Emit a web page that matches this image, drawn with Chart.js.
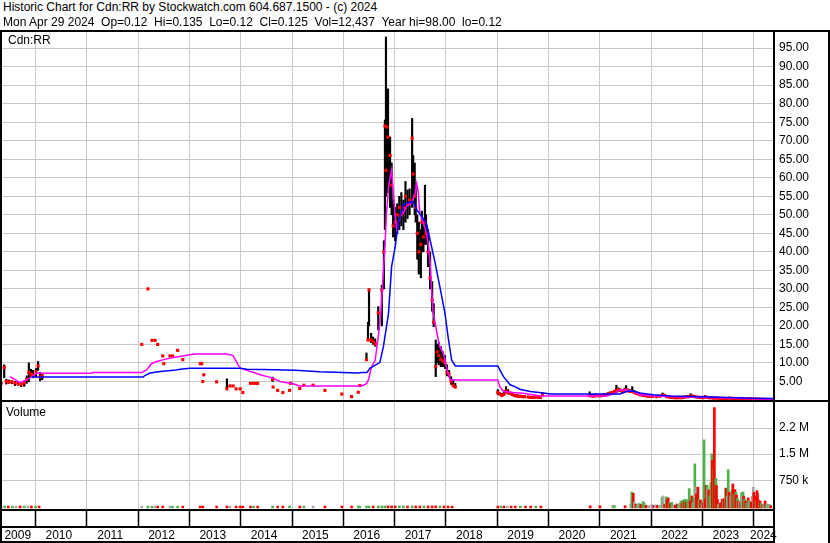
<!DOCTYPE html>
<html>
<head>
<meta charset="utf-8">
<script src="https://cdn.jsdelivr.net/npm/chart.js@4.4.1/dist/chart.umd.min.js"></script>
<style>
body { margin:0; width:830px; height:543px; background:#fff; position:relative; overflow:hidden;
       font-family:"Liberation Sans", Arial, sans-serif; font-size:12px; color:#000; }
.t { position:absolute; white-space:pre; line-height:15px; z-index:2; }
.ln { position:absolute; background:#000; z-index:3; }
canvas { position:absolute; left:0; }
</style>
</head>
<body>
<div class="t" style="left:3px;top:0px">Historic Chart for Cdn:RR by Stockwatch.com 604.687.1500 - (c) 2024</div>
<div class="t" style="left:3px;top:15px">Mon Apr 29 2024  Op=0.12  Hi=0.135  Lo=0.12  Cl=0.125  Vol=12,437  Year hi=98.00  lo=0.12</div>

<canvas id="price" width="830" height="368" style="top:32px"></canvas>
<canvas id="vol" width="830" height="141" style="top:402px"></canvas>

<div class="t" style="left:8px;top:33px">Cdn:RR</div>
<div class="t" style="left:6px;top:405px">Volume</div>

<!-- frame -->
<div class="ln" style="left:0;top:30px;width:830px;height:2px"></div>
<div class="ln" style="left:0;top:400px;width:830px;height:2px"></div>
<div class="ln" style="left:0;top:30px;width:2px;height:513px"></div>
<div class="ln" style="left:773px;top:30px;width:2px;height:513px"></div>
<div class="ln" style="left:828px;top:30px;width:2px;height:513px"></div>
<div class="ln" style="left:0;top:509px;width:775px;height:2px"></div>
<div class="ln" style="left:0;top:526px;width:775px;height:2px"></div>
<div class="ln" style="left:0;top:541px;width:775px;height:2px"></div>

<script>
// dates are decimal years
var barT = [
  2009.33,2009.39,2009.43,2009.48,2009.54,2009.60,2009.66,2009.72,2009.78,2009.83,2009.87,2009.91,2009.95,2010.01,2010.05,2010.09,2010.13,
  2012.07,2012.19,2012.27,2012.33,2012.38,2012.48,2012.50,2012.62,2012.67,2012.77,2012.87,
  2013.21,2013.24,2013.26,2013.28,2013.53,2013.73,2013.79,2013.85,2013.91,2013.99,
  2014.04,2014.19,2014.25,2014.30,2014.33,2014.62,2014.63,2014.72,2014.82,2014.95,2014.97,
  2015.15,2015.23,2015.41,2015.64,2015.97,2016.16,2016.29,2016.32,2016.45,
  2016.48,2016.50,2016.54,2016.58,2016.62,2016.68,2016.75,2016.79,2016.81,2016.83,2016.85,2016.87,2016.91,2016.94,2016.97,
  2017.01,2017.05,2017.09,2017.13,2017.17,2017.21,2017.25,2017.29,2017.34,2017.36,2017.39,2017.41,2017.44,2017.47,2017.51,2017.53,2017.56,2017.59,2017.61,2017.65,2017.69,2017.73,2017.76,2017.80,2017.83,2017.86,2017.90,2017.94,2017.98,
  2018.02,2018.06,2018.10,2018.14,2018.18,
  2019.01,2019.05,2019.09,2019.13,2019.17,2019.21,2019.25,2019.29,2019.33,2019.37,2019.41,2019.45,2019.49,2019.53,2019.60,2019.64,2019.68,2019.72,2019.76,2019.80,2019.84,2019.88,
  2020.80,2020.84,2020.88,2020.92,2020.96,2021.00,2021.04,2021.08,2021.12,2021.16,2021.20,2021.24,2021.28,2021.32,2021.36,2021.40,2021.44,2021.48,2021.51,2021.55,2021.59,2021.63,2021.67,2021.71,2021.75,2021.79,2021.83,2021.87,2021.91,2021.95,2021.99,2022.03,
  2022.10,2022.17,2022.22,2022.26,2022.30,2022.34,2022.38,2022.42,2022.46,2022.50,2022.54,2022.58,2022.62,2022.66,2022.70,2022.74,2022.77,2022.81,2022.85,2022.89,2022.93,2022.97,
  2023.01,2023.05,2023.09,2023.13,2023.17,2023.21,2023.25,2023.29,2023.33,2023.37,2023.41,2023.45,2023.49,2023.53,2023.57,2023.61,2023.65,2023.69,2023.73,2023.77,2023.81,2023.85,2023.89,2023.93,2023.97,
  2024.01,2024.05,2024.09,2024.13,2024.17,2024.21,2024.25,2024.29,2024.33
];
var barHi = [
  4.9,9.5,5.6,5.4,5.2,5.0,4.9,4.6,5.0,6.5,10.0,8.3,8.0,8.5,10.4,7.5,7.0,
  15.0,30.0,16.1,16.1,15.0,11.9,9.8,11.9,11.9,13.4,10.9,
  9.8,9.8,5.0,6.8,4.9,5.7,3.8,3.8,3.0,3.0,
  2.0,4.5,4.5,4.5,4.5,6.2,3.5,2.6,2.0,2.6,4.5,
  3.1,4.0,4.0,2.6,1.6,0.9,2.1,3.9,12.7,
  21,30,18,17,16.5,25.2,31,43,75.6,98,78,84,71,64,54,
  52,53,55,56,54,59,56.7,57,76,66,64,57,50,48,46,51,49,58,50,46,40,32,26,16.2,15,15.5,14.4,13,12,
  9.5,8,6.3,5.5,4.5,
  2.8,2.0,1.8,2.5,3.6,2.8,2.2,2.0,1.6,1.5,1.4,1.3,1.2,1.1,1.0,1.0,0.9,0.9,1.0,0.9,1.0,2.0,
  2.2,1.5,1.4,1.6,1.5,1.4,1.5,1.6,1.7,2.0,2.2,2.3,2.6,4.0,3.3,3.0,2.8,3.2,3.9,3.0,2.8,3.6,2.6,2.3,2.0,1.8,1.6,1.5,1.4,1.3,1.3,1.2,
  1.2,1.3,1.9,1.6,1.2,1.0,0.9,0.9,0.8,0.8,0.9,0.8,0.9,1.0,1.1,1.2,1.7,1.3,1.1,1.0,0.9,0.9,
  0.8,1.2,1.0,0.9,0.8,0.8,0.7,0.7,0.6,0.6,0.6,0.6,0.6,0.7,0.6,0.6,0.5,0.5,0.5,0.5,0.4,0.4,0.4,0.4,0.35,
  0.3,0.3,0.3,0.25,0.25,0.2,0.2,0.15,0.135
];
var barLo = [
  4.1,6.0,4.3,4.4,4.4,3.9,4.0,3.6,3.7,4.5,5.0,6.3,6.0,6.2,8.0,5.2,5.5,
  15.0,30.0,16.1,16.1,15.0,11.9,9.8,11.9,11.9,13.4,10.9,
  9.8,9.8,5.0,6.8,4.9,3.0,3.8,3.8,3.0,3.0,
  2.0,4.5,4.5,4.5,4.5,5.0,3.5,2.6,2.0,2.6,4.5,
  3.1,4.0,4.0,2.6,1.6,0.9,2.1,3.9,10.8,
  16.2,20,15.5,15,14.5,18.9,20,30,46,55,56,56,52,50,44,
  43,45,46,47,46,48,49,50,52,55,50,48,38,34,33,40,40,42,42,36,30,24,19.8,6.3,10,9.5,9.0,9,8.5,
  6.5,6.3,4.2,3.5,3.3,
  1.5,1.3,1.0,1.2,1.8,1.6,1.5,1.2,1.0,0.9,0.9,0.8,0.8,0.7,0.7,0.6,0.6,0.6,0.6,0.6,0.6,1.2,
  0.9,0.9,0.9,1.0,1.0,0.9,1.0,1.1,1.2,1.3,1.5,1.6,1.8,2.0,2.2,2.2,2.0,2.1,2.3,2.2,2.0,2.0,1.8,1.6,1.4,1.2,1.1,1.0,0.9,0.9,0.9,0.8,
  0.8,0.9,1.0,1.0,0.7,0.6,0.5,0.5,0.5,0.4,0.5,0.4,0.5,0.6,0.7,0.7,0.9,0.8,0.7,0.6,0.6,0.5,
  0.5,0.6,0.6,0.5,0.4,0.4,0.4,0.4,0.3,0.3,0.3,0.3,0.3,0.3,0.3,0.3,0.3,0.3,0.25,0.25,0.2,0.2,0.2,0.2,0.2,
  0.2,0.15,0.15,0.15,0.12,0.12,0.12,0.12,0.12
];
var barCl = [
  4.5,8.8,5.0,4.8,4.9,4.6,4.4,4.2,4.6,5.5,7.5,7.0,6.8,7.6,9.2,6.2,6.5,
  15.0,30.0,16.1,16.1,15.0,11.9,9.8,11.9,11.9,13.4,10.9,
  9.8,9.8,5.0,6.8,4.9,3.0,3.8,3.8,3.0,3.0,
  2.0,4.5,4.5,4.5,4.5,5.6,3.5,2.6,2.0,2.6,4.5,
  3.1,4.0,4.0,2.6,1.6,0.9,2.1,3.9,10.9,
  16.2,29.7,16.2,15.8,15.2,23.5,29.7,40,74,62,73.7,71,66,58,47,
  48,50,52,50,52,55,53,54,70.7,61,55,52,45,40,42,48,44,48,45,40,33,27,21,9,13,12,11,10.5,10,
  7.5,7,5,4,3.5,
  2.0,1.6,1.2,1.5,2.4,2.0,1.8,1.5,1.2,1.1,1.0,1.0,0.9,0.9,0.8,0.7,0.7,0.7,0.8,0.7,0.7,1.4,
  1.2,1.1,1.0,1.2,1.2,1.1,1.2,1.3,1.5,1.6,1.8,2.0,2.2,2.6,2.8,2.6,2.4,2.5,2.8,2.5,2.3,2.3,2.0,1.8,1.6,1.4,1.3,1.2,1.1,1.0,1.0,1.0,
  0.9,1.0,1.3,1.2,0.9,0.8,0.7,0.7,0.6,0.6,0.7,0.6,0.7,0.8,0.9,0.9,1.1,1.0,0.9,0.8,0.7,0.7,
  0.6,0.8,0.7,0.6,0.6,0.5,0.5,0.5,0.4,0.4,0.4,0.4,0.4,0.5,0.4,0.4,0.4,0.35,0.35,0.3,0.3,0.3,0.3,0.3,0.25,
  0.25,0.2,0.2,0.2,0.15,0.15,0.15,0.13,0.125
];

// short average (magenta)
var maShortT = [2009.50,2009.60,2009.70,2009.83,2009.93,2010.02,2011.10,2011.11,2012.07,2012.17,2012.26,2012.36,2012.56,2012.75,2013.01,
  2013.11,2013.73,2013.85,2013.95,2013.99,2014.12,2014.24,2014.38,2014.63,2014.76,2015.02,2015.15,2016.36,2016.45,2016.49,
  2016.55,2016.62,2016.68,2016.73,2016.77,2016.81,2016.84,2016.88,2016.91,2016.94,2016.97,2017.01,2017.04,2017.07,2017.14,
  2017.17,2017.23,2017.33,2017.40,2017.43,2017.46,2017.49,2017.56,2017.62,2017.66,2017.69,2017.72,2017.75,2017.79,2017.85,
  2017.88,2017.95,2018.00,2018.04,2018.08,2019.01,2019.05,2019.12,2019.31,2019.51,2019.83,2021.13,2021.26,2021.39,2021.52,
  2021.65,2021.78,2022.04,2022.69,2023.34,2023.99,2024.37];
var maShortV = [6.3,5.5,4.7,5.5,6.3,7.2,7.2,7.4,7.4,8.2,9.8,10.4,11.1,11.6,12.2,
  12.4,12.4,12.0,9.5,8.6,8.0,7.5,6.8,5.9,5.0,4.4,3.8,3.8,4.4,5.5,
  9.0,10.8,17.1,23.4,32.4,41.4,50.4,57.6,60,62.1,56.7,49.5,46,47.7,51,
  50.4,52.3,53.2,55.9,58.5,56,50.4,47.7,45,41.4,36.9,29.7,23.4,20.7,16.2,
  14.4,12.6,9.4,7.2,5.4,5.4,3.6,2.3,2.0,1.8,1.1,1.1,1.6,2.7,2.7,
  2.3,1.4,1.1,0.8,0.6,0.35,0.2];

// long average (blue)
var maLongT = [2009.93,2012.10,2012.13,2012.23,2012.43,2012.69,2012.82,2013.01,2013.99,2014.12,2014.67,2015.06,2015.54,2016.29,2016.36,
  2016.46,2016.52,2016.71,2016.78,2016.88,2016.94,2017.01,2017.07,2017.17,2017.23,2017.36,2017.43,2017.53,2017.62,2017.69,
  2017.79,2017.88,2017.98,2018.04,2018.11,2018.18,2019.01,2019.12,2019.25,2019.34,2019.44,2019.64,2019.90,2020.03,2021.39,
  2021.52,2021.65,2021.78,2022.04,2022.37,2023.01,2023.99,2024.37];
var maLongV = [6.2,6.2,6.6,7.3,7.7,8.0,8.3,8.6,8.6,8.3,8.2,8.0,7.6,7.3,7.4,
  7.4,8.6,10.1,14.4,23.4,36,41.4,47.7,52.7,53.1,53.6,51.3,49.5,47.7,43.2,
  36.9,30.6,23.4,17.1,10.8,9.2,9.2,6.3,4.1,3.6,2.9,2.3,1.9,1.6,1.6,
  2.3,2.4,1.9,1.4,1.1,0.9,0.5,0.4];

// volume in thousands, direction u = up, d = down, n = unchanged
var volT = [
  2009.33,2009.40,2009.47,2009.55,2009.62,2009.70,2009.78,2009.85,2009.92,2010.00,2010.07,
  2012.07,2012.19,2012.27,2012.33,2012.38,2012.48,2012.62,2012.67,2012.77,2012.87,
  2013.21,2013.26,2013.53,2013.73,2013.79,2013.91,2013.99,2014.04,2014.19,2014.25,2014.33,2014.62,2014.72,2014.82,2014.95,2015.15,2015.23,2015.41,2015.64,2015.97,2016.16,2016.29,2016.32,
  2016.45,2016.50,2016.58,2016.68,2016.75,2016.81,2016.87,2016.94,2017.01,2017.09,2017.17,2017.25,2017.34,2017.41,2017.49,2017.57,2017.65,2017.73,2017.80,2017.88,2017.96,2018.04,2018.12,
  2019.01,2019.07,2019.13,2019.20,2019.27,2019.35,2019.45,2019.55,2019.65,2019.75,2019.85,
  2020.81,2021.00,2021.25,2021.28,2021.49,2021.60,2021.62,2021.65,2021.67,2021.70,2021.72,2021.75,2021.78,2021.80,2021.84,2021.86,2021.90,2021.95,
  2022.01,2022.05,2022.08,2022.12,2022.16,2022.21,2022.23,2022.26,2022.29,2022.31,2022.33,2022.35,2022.37,2022.40,2022.44,2022.47,2022.50,2022.53,2022.56,2022.58,2022.60,2022.62,2022.64,2022.66,2022.68,2022.71,2022.74,2022.76,2022.79,2022.81,2022.83,2022.85,2022.87,2022.88,2022.91,2022.93,2022.96,2022.99,
  2023.01,2023.03,2023.05,2023.07,2023.09,2023.10,2023.12,2023.14,2023.16,2023.18,2023.19,2023.20,2023.22,2023.23,2023.26,2023.27,2023.29,2023.31,2023.32,2023.35,2023.38,2023.40,2023.42,2023.45,2023.46,2023.48,2023.50,2023.52,2023.53,2023.55,2023.57,2023.59,2023.61,2023.63,2023.65,2023.66,2023.68,2023.70,2023.72,2023.74,2023.76,2023.77,2023.79,2023.80,2023.82,2023.84,2023.86,2023.89,2023.90,2023.92,2023.95,2023.98,2023.99,
  2024.00,2024.02,2024.04,2024.06,2024.07,2024.09,2024.11,2024.12,2024.14,2024.17,2024.19,2024.22,2024.24,2024.26,2024.28,2024.30,2024.32,2024.33
];
var volK = [
  6,8,6,5,6,8,6,9,8,6,6,
  5,6,5,5,6,5,5,5,5,5,
  5,6,5,6,5,6,5,5,6,5,5,6,5,5,5,6,5,5,5,5,6,6,5,
  6,9,6,8,9,10,9,8,9,8,9,8,10,9,8,9,10,12,9,8,8,6,6,
  6,5,6,5,6,5,5,5,5,5,5,
  15,15,25,25,20,70,410,375,120,60,40,90,70,50,133,100,30,20,
  50,25,40,30,30,250,297,60,270,180,240,100,80,115,40,30,65,50,95,150,75,180,140,200,120,190,510,150,297,100,250,1220,548,350,550,200,180,80,
  100,1910,200,605,600,500,470,300,680,1510,1320,1100,1100,2840,807,600,200,50,70,100,200,180,220,520,520,300,1050,400,326,300,460,643,350,480,400,330,220,150,120,100,393,330,410,290,200,150,100,240,150,140,120,290,548,
  400,290,150,450,380,180,150,150,80,50,60,153,40,60,40,55,30,12
];
var volDir = [
  'n','u','d','u','n','d','u','n','d','u','d',
  'n','u','u','n','d','d','n','u','u','d',
  'd','d','d','d','n','d','d','d','d','u','d','u','d','d','u','d','u','n','d','d','d','u','u',
  'u','u','d','u','u','u','d','d','d','u','u','d','u','d','d','u','d','d','d','u','d','d','d',
  'd','u','d','n','d','d','u','d','d','u','d',
  'd','d','n','u','d','n','u','d','n','d','u','n','u','d','u','u','d','n',
  'n','d','n','d','n','u','n','d','u','d','d','u','d','u','n','d','d','u','n','u','d','u','d','u','d','u','u','d','d','n','u','u','n','d','d','u','d','n',
  'd','u','d','d','u','n','d','u','u','u','d','d','u','d','u','d','d','n','u','d','d','u','d','u','d','n','u','d','d','n','u','d','u','d','u','d','u','d','n','d','u','n','u','d','u','d','u','d','n','u','d','d','n',
  'd','d','u','d','d','d','u','d','u','d','n','d','u','n','u','n','u','d'
];

var yearLines = [2010,2011,2012,2013,2014,2015,2016,2017,2018,2019,2020,2021,2022,2023,2024];
var yearNames = ['2009','2010','2011','2012','2013','2014','2015','2016','2017','2018','2019','2020','2021','2022','2023','2024'];
var priceTicks = [5,10,15,20,25,30,35,40,45,50,55,60,65,70,75,80,85,90,95];
var volTicks = [750000,1500000,2250000];

var xMin = 2009.308, xMax = 2024.373;
var gridGrey = '#c8c8c8';
var dirColor = { u: '#4cb34c', d: '#ff0000', n: '#a6a6a6' };

Chart.defaults.font.family = '"Liberation Sans", Arial, sans-serif';
Chart.defaults.font.size = 12;
Chart.defaults.color = '#000';

// where each year label sits (middle of the visible part of the year)
var labelPos = yearNames.map(function (n) {
  var y = +n;
  var a = Math.max(y, xMin), b = Math.min(y + 1, xMax);
  var m = (a + b) / 2;
  if (y > 2009 && y < 2024) m -= 0.045;
  return m;
});

function xy(t, v) {
  return t.map(function (x, i) { return { x: x, y: v[i] }; });
}

var fixTicks = function (list) {
  return function (s) { s.ticks = list.map(function (v) { return { value: v }; }); };
};

// keep the plot area exactly where the frame is
function fitBox(w, h) {
  return function (s) {
    if (w !== null) s.width = w;
    if (h !== null) s.height = h;
    s.paddingTop = 0; s.paddingBottom = 0; s.paddingLeft = 0; s.paddingRight = 0;
  };
}

new Chart(document.getElementById('price'), {
  type: 'bar',
  data: {
    datasets: [
      { type: 'line', data: xy(maLongT, maLongV), borderColor: '#0000ff', borderWidth: 1.5, pointRadius: 0, tension: 0, order: 0 },
      { type: 'line', data: xy(maShortT, maShortV), borderColor: '#ff00ff', borderWidth: 1.5, pointRadius: 0, tension: 0, order: 1 },
      { type: 'line', data: xy(barT, barCl), showLine: false, pointStyle: 'rect', pointRadius: 2.2,
        pointBackgroundColor: '#ff0000', pointBorderWidth: 0, order: 2 },
      { type: 'bar', data: barT.map(function (t, i) { return { x: t, y: [barLo[i], barHi[i]] }; }),
        backgroundColor: '#000', barThickness: 1.5, grouped: false, order: 3 }
    ]
  },
  options: {
    responsive: false, animation: false, events: [],
    layout: { padding: 0, autoPadding: false },
    plugins: { legend: { display: false }, tooltip: { enabled: false } },
    scales: {
      x: {
        type: 'linear', min: xMin, max: xMax, offset: false,
        grid: { color: gridGrey, offset: false, drawTicks: false },
        border: { display: false },
        ticks: { display: false },
        afterBuildTicks: fixTicks(yearLines),
        afterFit: fitBox(null, 0)
      },
      y: {
        position: 'right', min: 0, max: 99.35,
        grid: { color: gridGrey, drawTicks: false },
        border: { display: false },
        ticks: { padding: 6, callback: function (v) { return v.toFixed(2); } },
        afterBuildTicks: fixTicks(priceTicks),
        afterFit: fitBox(57, null)
      }
    }
  }
});

new Chart(document.getElementById('vol'), {
  type: 'bar',
  data: {
    datasets: [{
      data: volT.map(function (t, i) { return { x: t, y: volK[i] * 1000 }; }),
      backgroundColor: volDir.map(function (d) { return dirColor[d]; }),
      barThickness: 2, grouped: false, base: -45000
    }]
  },
  options: {
    responsive: false, animation: false, events: [],
    layout: { padding: 0, autoPadding: false },
    plugins: { legend: { display: false }, tooltip: { enabled: false } },
    scales: {
      x: {
        type: 'linear', position: 'bottom', weight: 0, min: xMin, max: xMax, offset: false,
        grid: { color: gridGrey, offset: false, drawTicks: true, tickLength: 17, tickColor: '#000', tickWidth: 1.5 },
        border: { display: false },
        ticks: { display: false },
        afterBuildTicks: fixTicks(yearLines),
        afterFit: fitBox(null, 17)
      },
      xl: {
        type: 'linear', position: 'bottom', weight: 1, min: xMin, max: xMax, offset: false,
        grid: { display: false, drawTicks: false },
        border: { display: false },
        ticks: { padding: 2, maxRotation: 0, autoSkip: false, callback: function (v, i) { return yearNames[i]; } },
        afterBuildTicks: fixTicks(labelPos),
        afterFit: fitBox(null, 17)
      },
      y: {
        position: 'right', min: -78000, max: 3000000,
        grid: { color: gridGrey, drawTicks: false },
        border: { display: false },
        ticks: {
          padding: 6,
          callback: function (v) { return v >= 1000000 ? (Math.floor(v / 100000) / 10) + ' M' : (v / 1000) + ' k'; }
        },
        afterBuildTicks: fixTicks(volTicks),
        afterFit: fitBox(57, null)
      }
    }
  }
});
</script>
</body>
</html>
